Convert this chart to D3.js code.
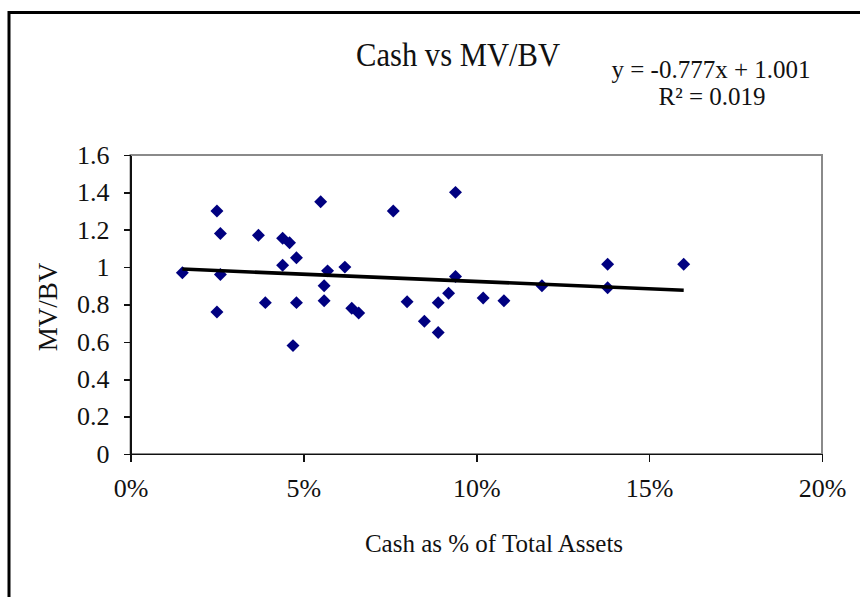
<!DOCTYPE html>
<html lang="en">
    <head>
        <meta charset="utf-8">
        <title>Cash vs MV/BV</title>
        <script type="text/javascript" src="https://cdn.jsdelivr.net/npm/d3@7/dist/d3.min.js"></script>
        <style type="text/css">
        body {
            margin: 0;
            background: #fff;
        }
        text {
            font-family: "Liberation Serif", "Times New Roman", serif;
            fill: #111;
        }
        .axis path,
        .axis line {
            fill: none;
            stroke: #111;
            stroke-width: 1.6px;
            shape-rendering: crispEdges;
        }
        .axis text {
            font-family: "Liberation Serif", "Times New Roman", serif;
            font-size: 26px;
        }
        </style>
    </head>
    <body>
        <script>
                var w = 860;
                var h = 597;

                // cash as % of total assets (fraction) and MV/BV
                var cashPct = [0.015, 0.025, 0.026, 0.026, 0.025, 0.037, 0.039, 0.044, 0.046,
                               0.044, 0.048, 0.048, 0.047, 0.055, 0.057, 0.056, 0.056, 0.062,
                               0.064, 0.066, 0.076, 0.094, 0.094, 0.080, 0.089, 0.092, 0.085,
                               0.089, 0.102, 0.108, 0.119, 0.138, 0.138, 0.160];
                var mvbv = [0.97, 1.30, 1.18, 0.96, 0.76, 1.17, 0.81, 1.155, 1.13,
                            1.01, 1.05, 0.81, 0.58, 1.35, 0.98, 0.90, 0.82, 1.00,
                            0.78, 0.755, 1.30, 1.40, 0.95, 0.815, 0.81, 0.86, 0.71,
                            0.65, 0.835, 0.82, 0.90, 1.015, 0.89, 1.015];

                var xTicks = [0, 0.05, 0.10, 0.15, 0.20];
                var yTicks = [0, 0.2, 0.4, 0.6, 0.8, 1, 1.2, 1.4, 1.6];

                // linear trendline shown on the chart
                var slope = -0.777;
                var intercept = 1.001;
                var rSquared = 0.019;

                var points = cashPct.map(function (c, i) { return [c, mvbv[i]]; });

                var xScale = d3.scaleLinear()
                  .domain([0, 0.20])
                  .range([130.5, 822]);

                var yScale = d3.scaleLinear()
                  .domain([0, 1.6])
                  .range([454, 155]);

                var svg = d3.select("body")
                  .append("svg")
                  .attr("width", w)
                  .attr("height", h);

                // outer chart frame (runs off the right and bottom edges)
                svg.append("rect")
                  .attr("x", 9)
                  .attr("y", 12.5)
                  .attr("width", w + 20)
                  .attr("height", h + 20)
                  .attr("fill", "#fff")
                  .attr("stroke", "#000")
                  .attr("stroke-width", 3);

                // plot area frame
                svg.append("rect")
                  .attr("x", xScale(0))
                  .attr("y", yScale(1.6))
                  .attr("width", xScale(0.20) - xScale(0))
                  .attr("height", yScale(0) - yScale(1.6))
                  .attr("fill", "#fff")
                  .attr("stroke", "#8a8a8a")
                  .attr("stroke-width", 2);

                svg.append("g")
                  .attr("class", "axis")
                  .attr("transform", "translate(0," + yScale(0) + ")")
                  .call(d3.axisBottom(xScale)
                    .tickValues(xTicks)
                    .tickSize(8)
                    .tickSizeOuter(0)
                    .tickPadding(17)
                    .tickFormat(d3.format(".0%")));

                svg.append("g")
                  .attr("class", "axis")
                  .attr("transform", "translate(" + xScale(0) + ",0)")
                  .call(d3.axisLeft(yScale)
                    .tickValues(yTicks)
                    .tickSize(7)
                    .tickSizeOuter(0)
                    .tickPadding(14)
                    .tickFormat(function (d) { return d3.format("")(+d.toFixed(1)); }));

                // small tick crossing below the origin
                svg.select(".axis").selectAll(".tick line")
                  .attr("y1", function (d) { return d === 0 ? -5 : 0; });

                svg.selectAll(".point")
                  .data(points)
                  .enter().append("path")
                  .attr("class", "point")
                  .attr("d", d3.symbol(d3.symbolSquare, 84))
                  .attr("fill", "#000080")
                  .attr("transform", function (d) {
                      return "translate(" + xScale(d[0]) + "," + yScale(d[1]) + ") rotate(45)";
                  });

                var xMin = d3.min(cashPct), xMax = d3.max(cashPct);
                var trend = [xMin, xMax].map(function (x) { return [x, slope * x + intercept]; });

                svg.append("path")
                  .datum(trend)
                  .attr("fill", "none")
                  .attr("stroke", "#000")
                  .attr("stroke-width", 3.5)
                  .attr("d", d3.line()
                    .x(function (d) { return xScale(d[0]); })
                    .y(function (d) { return yScale(d[1]); }));

                svg.append("text")
                  .text("Cash vs MV/BV")
                  .attr("x", 458)
                  .attr("y", 66)
                  .attr("text-anchor", "middle")
                  .attr("font-size", 33)
                  .attr("textLength", 204)
                  .attr("lengthAdjust", "spacingAndGlyphs");

                svg.append("text")
                  .text("y = " + slope + "x + " + intercept.toFixed(3))
                  .attr("x", 711)
                  .attr("y", 78)
                  .attr("text-anchor", "middle")
                  .attr("font-size", 25);

                svg.append("text")
                  .text("R\u00b2 = " + rSquared.toFixed(3))
                  .attr("x", 712)
                  .attr("y", 105)
                  .attr("text-anchor", "middle")
                  .attr("font-size", 25);

                svg.append("text")
                  .text("Cash as % of Total Assets")
                  .attr("x", 494)
                  .attr("y", 552)
                  .attr("text-anchor", "middle")
                  .attr("font-size", 25);

                svg.append("text")
                  .text("MV/BV")
                  .attr("transform", "rotate(-90)")
                  .attr("x", -307)
                  .attr("y", 57)
                  .attr("text-anchor", "middle")
                  .attr("font-size", 27);

            </script>
    </body>
</html>
